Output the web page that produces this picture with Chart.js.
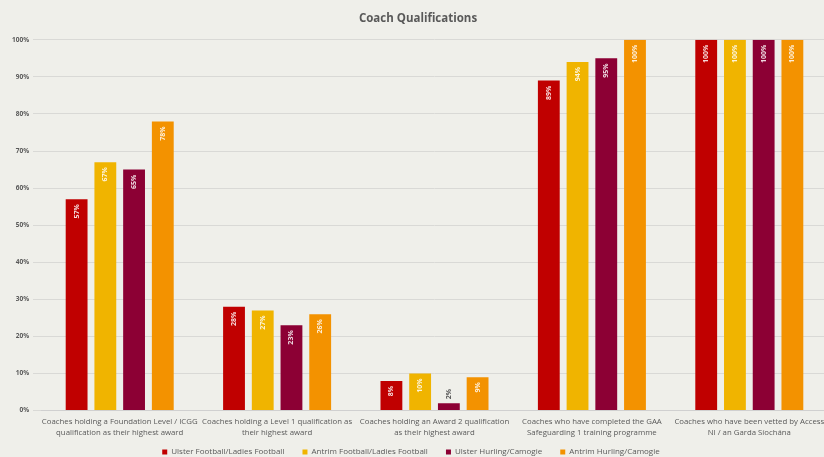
<!DOCTYPE html>
<html>
<head>
<meta charset="utf-8">
<script src="https://cdn.jsdelivr.net/npm/chart.js@4.4.1/dist/chart.umd.min.js"></script>
<style>
  html, body { margin: 0; padding: 0; background: #efefea; overflow: hidden; }
  #wrap { width: 840px; height: 457px; }
</style>
</head>
<body>
<div id="wrap"><canvas id="chart" width="840" height="457"></canvas></div>
<script>
// Coach qualifications, % of coaches per group
const categories = [
  ['Coaches holding a Foundation Level / ICGG', 'qualification as their highest award'],
  ['Coaches holding a Level 1 qualification as', 'their highest award'],
  ['Coaches holding an Award 2 qualification', 'as their highest award'],
  ['Coaches who have completed the GAA', 'Safeguarding 1 training programme'],
  ['Coaches who have been vetted by Access', 'NI / an Garda Síochána']
];
const ulsterFootball = [57, 28, 8, 89, 100];
const antrimFootball = [67, 27, 10, 94, 100];
const ulsterHurling = [65, 23, 2, 95, 100];
const antrimHurling = [78, 26, 9, 100, 100];

const seriesNames = [
  'Ulster Football/Ladies Football',
  'Antrim Football/Ladies Football',
  'Ulster Hurling/Camogie',
  'Antrim Hurling/Camogie'
];
const seriesColors = ['#c00000', '#f0b400', '#8c0034', '#f39200'];

const FONT = '"Open Sans", "Noto Sans", sans-serif';

// white rotated value labels inside the bars
const barLabels = {
  id: 'barLabels',
  afterDatasetsDraw(chart) {
    const ctx = chart.ctx;
    ctx.save();
    ctx.font = 'bold 7px ' + FONT;
    ctx.textBaseline = 'middle';
    chart.data.datasets.forEach((ds, i) => {
      chart.getDatasetMeta(i).data.forEach((bar, j) => {
        const txt = ds.data[j] + '%';
        const h = bar.base - bar.y;
        ctx.save();
        ctx.translate(bar.x, h < 16 ? bar.y - 4 : bar.y + 5);
        ctx.rotate(-Math.PI / 2);
        if (h < 16) {
          ctx.fillStyle = '#595959';
          ctx.textAlign = 'left';
        } else {
          ctx.fillStyle = 'rgba(255,255,255,0.85)';
          ctx.textAlign = 'right';
        }
        ctx.fillText(txt, 0, 0);
        ctx.restore();
      });
    });
    ctx.restore();
  }
};

const datasets = [ulsterFootball, antrimFootball, ulsterHurling, antrimHurling].map((d, i) => ({
  label: seriesNames[i],
  data: d,
  backgroundColor: seriesColors[i],
  barPercentage: 0.76,
  categoryPercentage: 0.73
}));

const baseLabels = Chart.defaults.plugins.legend.labels.generateLabels;

new Chart(document.getElementById('chart'), {
  type: 'bar',
  data: { labels: categories, datasets },
  plugins: [barLabels],
  options: {
    responsive: false,
    animation: false,
    layout: { padding: { left: 8, right: 12, top: 4, bottom: -9 } },
    plugins: {
      title: {
        display: true,
        text: 'Coach Qualifications',
        color: '#595959',
        font: { family: FONT, size: 11.5, weight: 'bold' },
        padding: { top: 8, bottom: 14 }
      },
      legend: {
        position: 'bottom',
        labels: {
          color: '#595959',
          font: { family: FONT, size: 8 },
          boxWidth: 5,
          boxHeight: 5,
          padding: 4,
          // a bit more room between items than the padding alone gives
          generateLabels: chart => baseLabels(chart).map(l => ({ ...l, text: l.text + '\u2003\u2002 ' }))
        }
      },
      tooltip: { enabled: false }
    },
    scales: {
      x: {
        grid: { display: false, drawTicks: false },
        border: { color: '#d0d0d0' },
        ticks: {
          color: '#595959',
          font: { family: FONT, size: 7.8, lineHeight: 1.5 },
          maxRotation: 0,
          autoSkip: false,
          padding: 5
        }
      },
      y: {
        min: 0,
        max: 100,
        grid: { color: '#d9d9d6' },
        border: { display: false },
        ticks: {
          stepSize: 10,
          color: '#595959',
          font: { family: FONT, size: 6.5, weight: 'bold' },
          padding: 4,
          callback: v => v + '%'
        }
      }
    }
  }
});
</script>
</body>
</html>
